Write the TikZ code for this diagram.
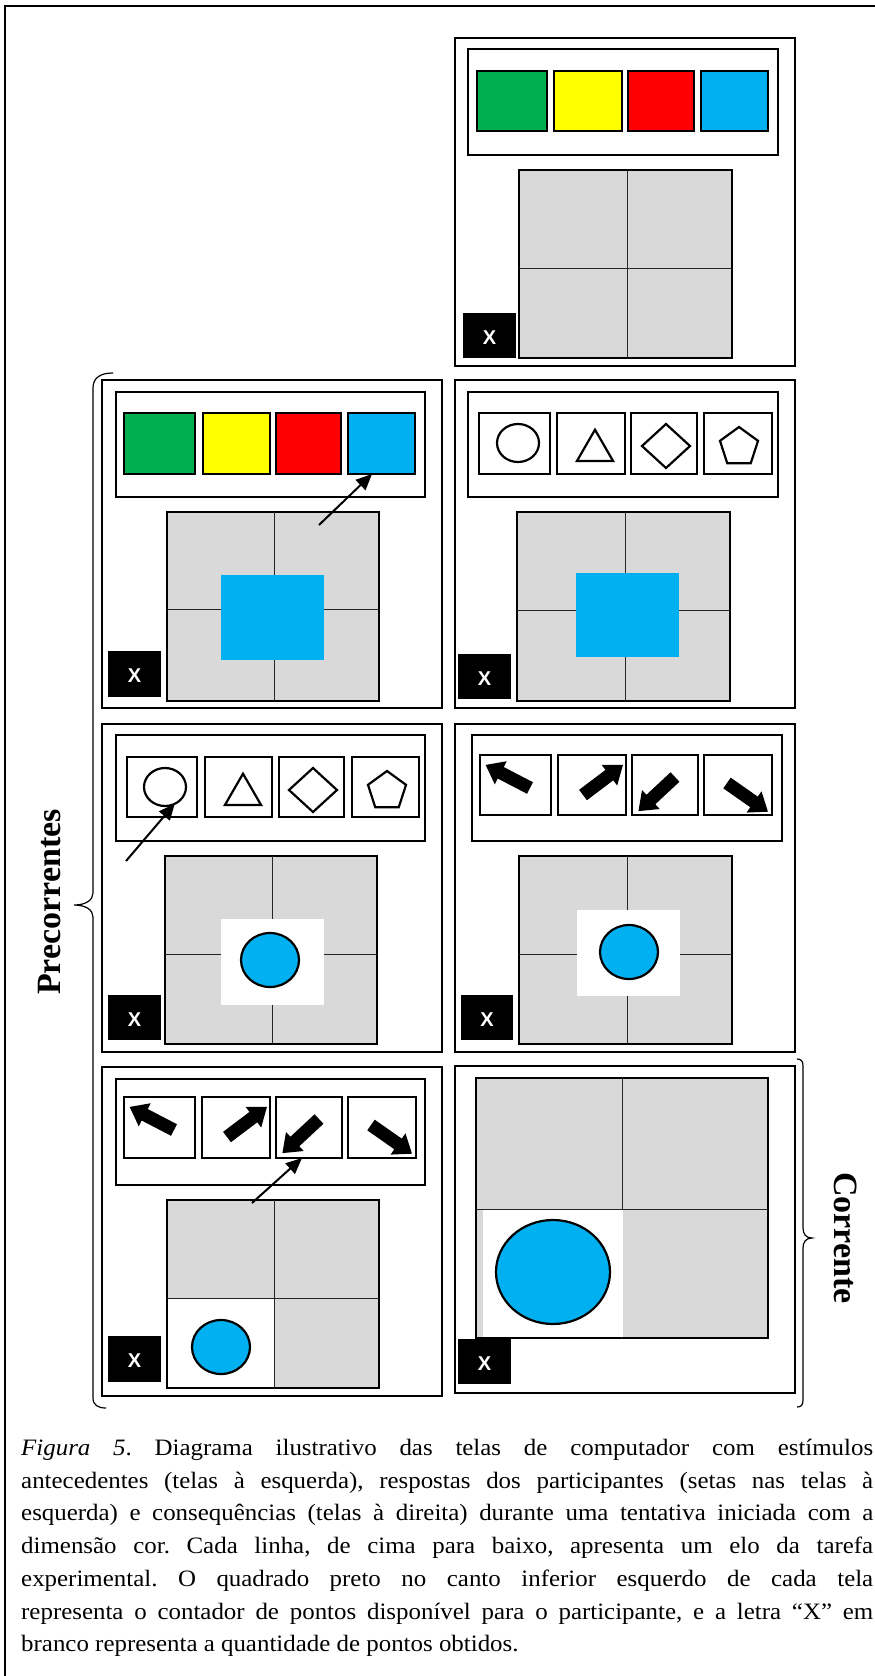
\documentclass[tikz,border=0pt]{standalone}
\usepackage{fontspec}
\setmainfont{Liberation Serif}
\newfontfamily\capfont{Liberation Serif}[FakeStretch=1.06]
\newfontfamily\sansfnt{Liberation Sans Bold}
\usetikzlibrary{fit,shapes.geometric,arrows.meta}
\definecolor{cgreen}{HTML}{00B050}
\definecolor{cyellow}{HTML}{FFFF00}
\definecolor{cred}{HTML}{FF0000}
\definecolor{cblue}{HTML}{00B0F0}
\definecolor{cgray}{HTML}{D9D9D9}
\newcommand\boxnode[6]{\node[#2, fit={(#3,#4) (#5,#6)}, inner sep=0pt, outer sep=0pt] (#1) {};}
\newcommand\blkarrow[3]{\fill[blockarrow, shift={(#1,#2)}, rotate=#3] (0,-6.5) -- (33,-6.5) -- (33,-13) -- (50,0) -- (33,13) -- (33,6.5) -- (0,6.5) -- cycle;}
\newcommand\ptcounter[5]{\boxnode{#1}{counterbox}{#2}{#3}{#4}{#5}\node[xmark] (#1x) at ([yshift=-2pt]#1.center) {X};}
\newcommand\gridnode[7]{\boxnode{#1}{gridbox}{#2}{#3}{#4}{#5}\draw[divider] (#6,#3) -- (#6,#5); \draw[divider] (#2,#7) -- (#4,#7);}
\begin{document}
\begin{tikzpicture}[x=1pt,y=-1pt,
  screen/.style={draw, line width=2pt, fill=white},
  palette/.style={draw, line width=2pt},
  swatch/.style={draw, line width=2.5pt},
  optbox/.style={draw, line width=2.2pt},
  gridbox/.style={draw, line width=2.5pt, fill=cgray},
  divider/.style={line width=0.9pt, draw=black!85},
  counterbox/.style={fill=black},
  xmark/.style={text=white, font=\sansfnt\fontsize{20}{20}\selectfont, inner sep=0pt},
  glyph/.style={draw, line width=2.2pt, inner sep=0pt, outer sep=0pt},
  bluedot/.style={draw, line width=2.2pt, fill=cblue, ellipse, inner sep=0pt},
  resp/.style={line width=2pt, -{Triangle[length=16pt,width=14pt]}},
  blockarrow/.style={fill=black},
  overlayblue/.style={fill=cblue},
  overlaywhite/.style={fill=white},
  brace/.style={line width=1.2pt},
  sidelabel/.style={font=\bfseries\fontsize{34}{34}\selectfont, inner sep=0pt}
]
\useasboundingbox (0,0) rectangle (875,1676);
\fill[white] (0,0) rectangle (875,1676);
\draw[line width=2.5pt] (5,1676) -- (5,6) -- (875,6);

% ---------- R1 ----------
\boxnode{s1}{screen}{455}{38}{795}{366}
\boxnode{p1}{palette}{468}{49}{778}{155}
\boxnode{p1a}{swatch,fill=cgreen}{477}{71}{547}{131}
\boxnode{p1b}{swatch,fill=cyellow}{554}{71}{622}{131}
\boxnode{p1c}{swatch,fill=cred}{628}{71}{694}{131}
\boxnode{p1d}{swatch,fill=cblue}{701}{71}{768}{131}
\gridnode{g1}{519}{170}{732}{358}{627}{268}
\ptcounter{c1}{463}{313}{516}{358}

% ---------- L2 ----------
\boxnode{s2}{screen}{102}{380}{442}{708}
\boxnode{p2}{palette}{116}{392}{425}{497}
\boxnode{p2a}{swatch,fill=cgreen}{124}{413}{195}{474}
\boxnode{p2b}{swatch,fill=cyellow}{203}{413}{270}{474}
\boxnode{p2c}{swatch,fill=cred}{276}{413}{341}{474}
\boxnode{p2d}{swatch,fill=cblue}{348}{413}{415}{474}
\gridnode{g2}{167}{512}{379}{701}{274}{609}
\boxnode{t2}{overlayblue}{221}{575}{324}{660}
\ptcounter{c2}{108}{651}{161}{697}
\coordinate (r2) at (319,525);
\draw[resp] (r2) -- ([xshift=24pt]p2d.south west);

% ---------- R2 ----------
\boxnode{s3}{screen}{455}{380}{795}{708}
\boxnode{p3}{palette}{468}{392}{778}{497}
\boxnode{p3a}{optbox}{479}{413}{550}{474}
\boxnode{p3b}{optbox}{557}{413}{625}{474}
\boxnode{p3c}{optbox}{631}{413}{697}{474}
\boxnode{p3d}{optbox}{704}{413}{772}{474}
\node[glyph, ellipse, minimum width=42pt, minimum height=38pt] (k3a) at (518,443) {};
\node[glyph, regular polygon, regular polygon sides=3, minimum size=41.6pt] (k3b) at (595,450.5) {};
\node[glyph, diamond, minimum width=48pt, minimum height=44pt] (k3c) at (666,446) {};
\node[glyph, regular polygon, regular polygon sides=5, minimum size=40pt] (k3d) at (739,447) {};
\gridnode{g3}{517}{512}{730}{701}{625}{610}
\boxnode{t3}{overlayblue}{576}{573}{679}{657}
\ptcounter{c3}{458}{654}{511}{699}

% ---------- L3 ----------
\boxnode{s4}{screen}{102}{724}{442}{1052}
\boxnode{p4}{palette}{116}{735}{425}{841}
\boxnode{p4a}{optbox}{127}{757}{197}{817}
\boxnode{p4b}{optbox}{205}{757}{272}{817}
\boxnode{p4c}{optbox}{279}{757}{344}{817}
\boxnode{p4d}{optbox}{352}{757}{419}{817}
\node[glyph, ellipse, minimum width=42pt, minimum height=38pt] (k4a) at (165,787) {};
\node[glyph, regular polygon, regular polygon sides=3, minimum size=41.6pt] (k4b) at (243,794.5) {};
\node[glyph, diamond, minimum width=48pt, minimum height=44pt] (k4c) at (313,790) {};
\node[glyph, regular polygon, regular polygon sides=5, minimum size=40pt] (k4d) at (387,791) {};
\gridnode{g4}{165}{856}{377}{1044}{272}{954}
\boxnode{t4}{overlaywhite}{221}{919}{324}{1005}
\node[bluedot, minimum width=58pt, minimum height=54pt] (b4) at (270,960) {};
\ptcounter{c4}{108}{995}{161}{1040}
\coordinate (r4) at (126,861);
\draw[resp] (r4) -- (k4a.-60);

% ---------- R3 ----------
\boxnode{s5}{screen}{455}{724}{795}{1052}
\boxnode{p5}{palette}{472}{735}{782}{841}
\boxnode{p5a}{optbox}{480}{755}{551}{815}
\boxnode{p5b}{optbox}{558}{755}{626}{815}
\boxnode{p5c}{optbox}{632}{755}{698}{815}
\boxnode{p5d}{optbox}{704}{755}{772}{815}
\blkarrow{530}{788}{152.5}
\blkarrow{583}{795}{37}
\blkarrow{675}{777}{223}
\blkarrow{727}{783}{-35}
\gridnode{g5}{519}{856}{732}{1044}{627}{954}
\boxnode{t5}{overlaywhite}{577}{910}{680}{996}
\node[bluedot, minimum width=58pt, minimum height=54pt] (b5) at (629,952) {};
\ptcounter{c5}{461}{995}{513}{1040}

% ---------- L4 ----------
\boxnode{s6}{screen}{102}{1067}{442}{1396}
\boxnode{p6}{palette}{116}{1079}{425}{1185}
\boxnode{p6a}{optbox}{124}{1097}{195}{1158}
\boxnode{p6b}{optbox}{202}{1097}{270}{1158}
\boxnode{p6c}{optbox}{276}{1097}{342}{1158}
\boxnode{p6d}{optbox}{348}{1097}{416}{1158}
\blkarrow{174}{1130}{152.5}
\blkarrow{227}{1137}{37}
\blkarrow{319}{1119}{223}
\blkarrow{371}{1125}{-35}
\gridnode{g6}{167}{1200}{379}{1388}{274}{1298}
\boxnode{t6}{overlaywhite}{168.3}{1298.5}{273.5}{1386.7}
\node[bluedot, minimum width=58pt, minimum height=54pt] (b6) at (221,1347) {};
\ptcounter{c6}{108}{1336}{161}{1382}
\coordinate (r6) at (252,1203);
\draw[resp] (r6) -- ([xshift=26pt]p6c.south west);

% ---------- R4 ----------
\boxnode{s7}{screen}{455}{1066}{795}{1393}
\gridnode{g7}{476}{1078}{768}{1338}{622}{1209}
\boxnode{t7}{overlaywhite}{483}{1210}{623}{1336.7}
\node[bluedot, minimum width=114pt, minimum height=104pt] (b7) at (553,1272) {};
\ptcounter{c7}{458}{1339}{511}{1384}

% ---------- labels and braces ----------
\node[sidelabel, rotate=90] (prec) at (50,902) {Precorrentes};
\node[sidelabel, rotate=-90] (corr) at (846,1238) {Corrente};
\draw[brace] (113,373) .. controls (100,373) and (93,378) .. (93,388) -- (93,893)
  .. controls (93,900) and (86,905) .. (74,905) .. controls (86,905) and (93,910) .. (93,917)
  -- (93,1398) .. controls (93,1405) and (98,1408) .. (106,1408);
\draw[brace] (797,1059) .. controls (801,1059) and (803,1061) .. (803,1066) -- (803,1228)
  .. controls (803,1234) and (806,1238) .. (812,1238) .. controls (806,1238) and (803,1242) .. (803,1248)
  -- (803,1400) .. controls (803,1405) and (801,1407) .. (797,1407);

% ---------- caption ----------
\node[anchor=north west, inner sep=0pt, text width=852pt, align=justify,
      font=\capfont\fontsize{23.5}{32.7}\selectfont\frenchspacing] (cap) at (21,1439)
{\textit{Figura 5}. Diagrama ilustrativo das telas de computador com estímulos\linebreak
antecedentes (telas à esquerda), respostas dos participantes (setas nas telas à\linebreak
esquerda) e consequências (telas à direita) durante uma tentativa iniciada com a\linebreak
dimensão cor. Cada linha, de cima para baixo, apresenta um elo da tarefa\linebreak
experimental. O quadrado preto no canto inferior esquerdo de cada tela\linebreak
representa o contador de pontos disponível para o participante, e a letra “X” em\linebreak
branco representa a quantidade de pontos obtidos.};
\end{tikzpicture}
\end{document}
